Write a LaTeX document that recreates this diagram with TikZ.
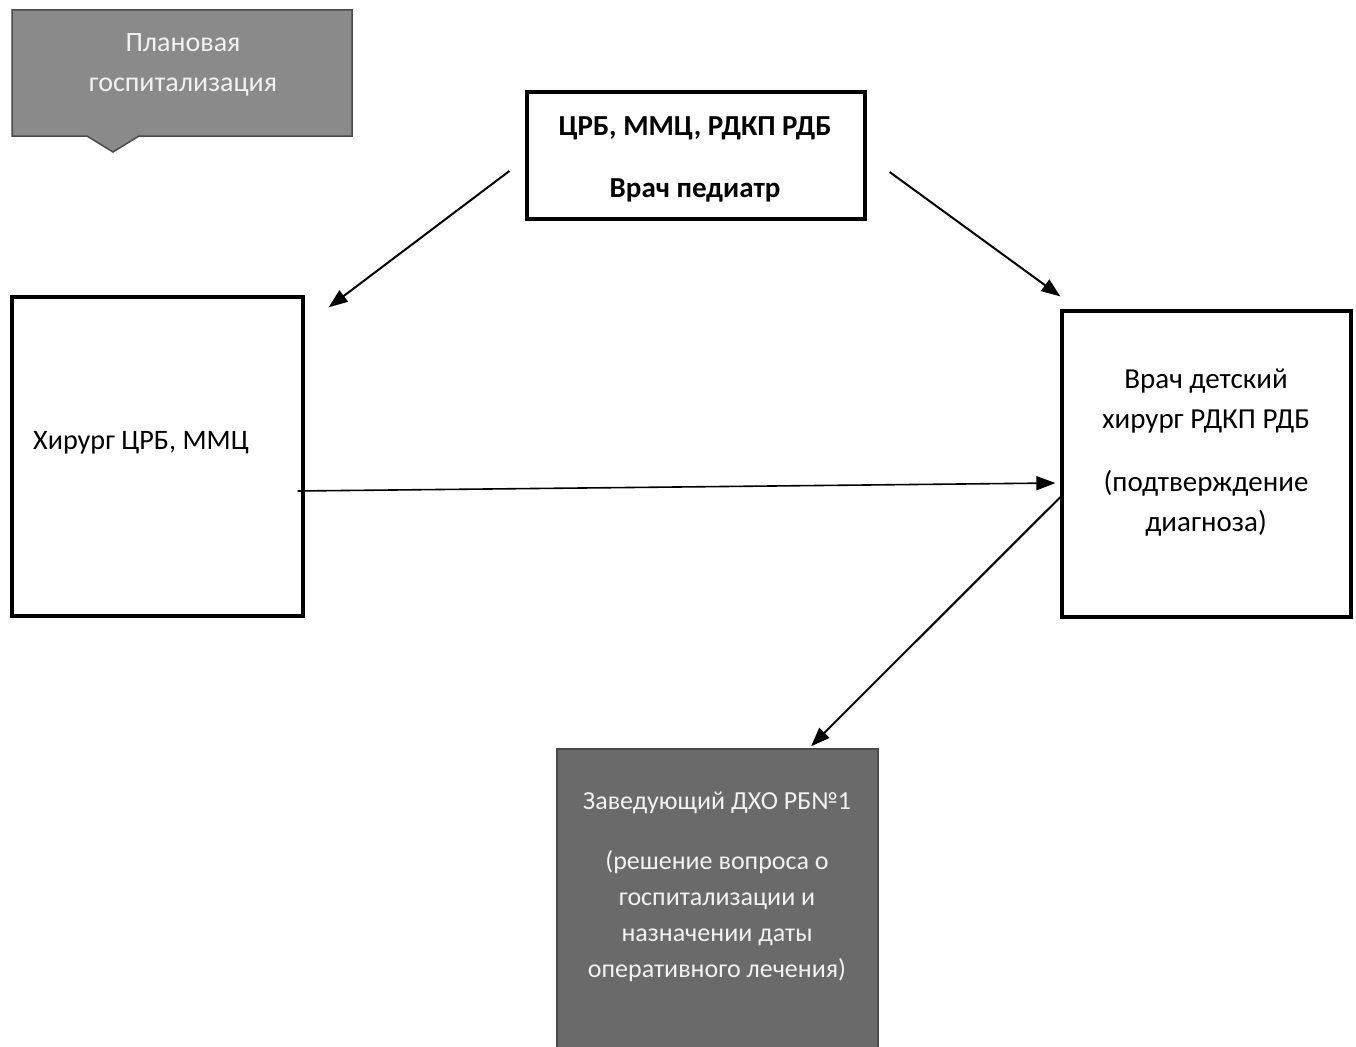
\documentclass[tikz,border=0pt]{standalone}
\usepackage{fontspec}
\setmainfont{Carlito}
\usetikzlibrary{arrows.meta,calc}
\definecolor{bannergray}{HTML}{8A8A8A}
\definecolor{headgray}{HTML}{6A6A6A}
\definecolor{edgegray}{HTML}{4A4A4A}
\definecolor{lighttext}{HTML}{F2F2F2}
\tikzset{
  box/.style={draw=black, line width=3.2pt, fill=white, rectangle, inner sep=0pt},
  txt/.style={align=center, inner sep=0pt, font=\fontsize{28}{40}\selectfont},
  conn/.style={line width=2pt, -{Triangle[length=19pt,width=14pt]}},
}
\begin{document}
\begin{tikzpicture}[x=1pt,y=-1pt]
\useasboundingbox (0,0) rectangle (1356,1046);
\fill[white] (0,0) rectangle (1356,1046);
% banner
\fill[bannergray, draw=edgegray, line width=1.5pt] (12,10) -- (352,10) -- (352,136) -- (139,136) -- (113,152) -- (87,136) -- (12,136) -- cycle;
\node[txt, text=lighttext] (plan) at (183,65) {Плановая\\госпитализация};
% boxes
\node[box, minimum width=338pt, minimum height=127pt] (ped) at (696,155.5) {};
\node[txt, font=\fontsize{29}{62}\selectfont\bfseries] (pedt) at (695,159) {ЦРБ, ММЦ, РДКП РДБ\\Врач педиатр};
\node[box, minimum width=291pt, minimum height=319pt] (surgL) at (157.5,456.5) {};
\node[txt, anchor=west, font=\fontsize{28.2}{40}\selectfont] (surgLt) at (33,443) {Хирург ЦРБ, ММЦ};
\node[box, minimum width=289pt, minimum height=306pt] (surgR) at (1206.5,464) {};
\node[txt, font=\fontsize{29}{40}\selectfont] (surgRt) at (1206,453) {Врач детский\\хирург РДКП РДБ\\[23pt](подтверждение\\диагноза)};
\node[rectangle, fill=headgray, draw=edgegray, line width=1.5pt, inner sep=0pt, minimum width=321pt, minimum height=305pt] (head) at (717.5,901.5) {};
\node[txt, text=lighttext, font=\fontsize{26}{36}\selectfont] (headt) at (717,887) {Заведующий ДХО РБ№1\\[24pt](решение вопроса о\\госпитализации и\\назначении даты\\оперативного лечения)};
% connectors
\coordinate (a1s) at ($(ped.west)+(-16,15.5)$);
\coordinate (a1e) at ($(surgL.north east)+(24,12)$);
\coordinate (a2s) at ($(ped.east)+(23,16.5)$);
\coordinate (a2e) at ($(surgR.north west)+(0,-13)$);
\coordinate (a3s) at ($(surgL.east)+(-7,34.5)$);
\coordinate (a3e) at ($(surgR.west)+(-5,19)$);
\coordinate (a4s) at ($(surgR.west)+(0,33)$);
\coordinate (a4e) at ($(head.north)+(93.5,-2)$);
\draw[conn] (a1s) -- (a1e);
\draw[conn] (a2s) -- (a2e);
\draw[conn, line width=1.6pt] (a3s) -- (a3e);
\draw[conn] (a4s) -- (a4e);
\end{tikzpicture}
\end{document}
